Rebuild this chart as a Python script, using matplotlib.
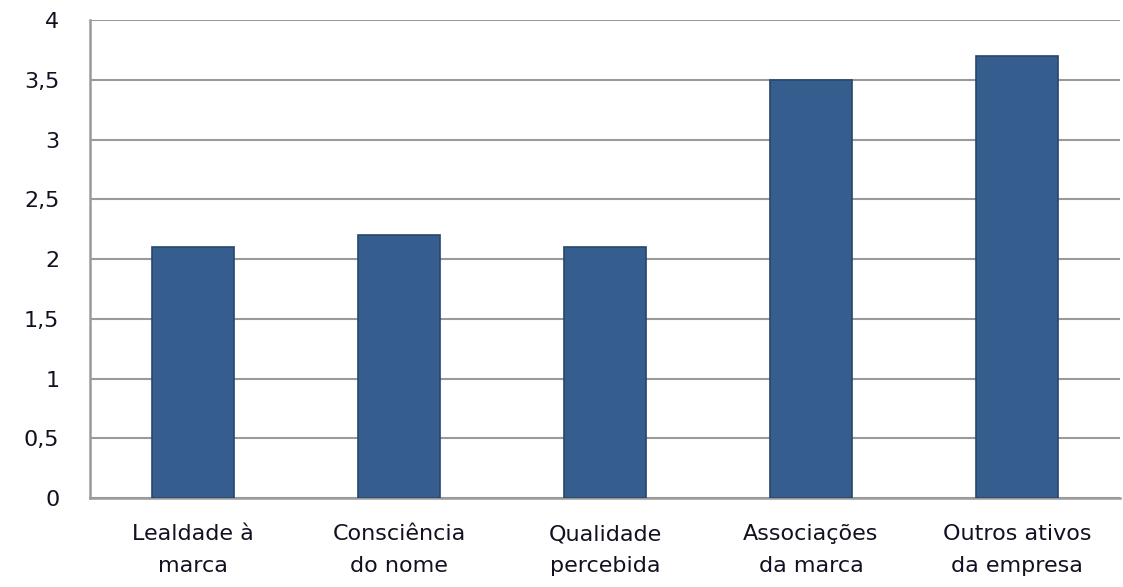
import matplotlib
matplotlib.use("Agg")
import matplotlib.pyplot as plt

categories = ["Lealdade à\nmarca", "Consciência\ndo nome", "Qualidade\npercebida",
              "Associações\nda marca", "Outros ativos\nda empresa"]
values = [2.1, 2.2, 2.1, 3.5, 3.7]
yticks = [0, 0.5, 1, 1.5, 2, 2.5, 3, 3.5, 4]
ytick_labels = ["0", "0,5", "1", "1,5", "2", "2,5", "3", "3,5", "4"]

fig = plt.figure(figsize=(11.23, 5.87), dpi=100)
ax = fig.add_axes([0.0801, 0.1516, 0.9172, 0.8143])

x = range(len(categories))
ax.bar(x, values, width=0.4, color="#355E8F", edgecolor="#27466B", linewidth=1.2, zorder=3)

ax.set_ylim(0, 4)
ax.set_xlim(-0.5, len(categories) - 0.5)
ax.set_yticks(yticks)
ax.set_yticklabels(ytick_labels)
ax.set_xticks(list(x))
ax.set_xticklabels(categories, linespacing=1.75)
ax.yaxis.grid(True, color="#9A9A9A", linewidth=1.5, zorder=0)
ax.tick_params(axis="both", length=0, labelsize=16, colors="#111122")
ax.tick_params(axis="y", pad=22)
ax.tick_params(axis="x", pad=19)
for s in ["top", "right"]:
    ax.spines[s].set_visible(False)
for s in ["left", "bottom"]:
    ax.spines[s].set_color("#9A9A9A")
    ax.spines[s].set_linewidth(1.8)

fig.savefig("out.png", dpi=100)
